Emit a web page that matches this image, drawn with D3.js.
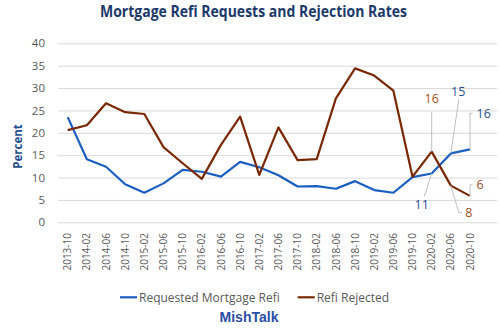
<!DOCTYPE html>
<html>
<head>
<meta charset="utf-8">
<script src="https://cdn.jsdelivr.net/npm/d3@7"></script>
<style>
    body { margin: 0; background: #fff; }
    svg { display: block; font-family: "Open Sans", sans-serif; }
</style>
</head>
<body>
<div id="chart"></div>
<script>
    // data
    var months = [ '2013-10', '2014-02', '2014-06', '2014-10', '2015-02', '2015-06', '2015-10', '2016-02',
                   '2016-06', '2016-10', '2017-02', '2017-06', '2017-10', '2018-02', '2018-06', '2018-10',
                   '2019-02', '2019-06', '2019-10', '2020-02', '2020-06', '2020-10' ];

    var requested = [ 23.5, 14.1, 12.4, 8.5, 6.6, 8.7, 11.7, 11.3, 10.2, 13.5, 12.3,
                      10.5, 8.0, 8.1, 7.5, 9.2, 7.2, 6.6, 10.1, 10.9, 15.4, 16.3 ];

    var rejected = [ 20.6, 21.7, 26.6, 24.6, 24.2, 16.8, 13.2, 9.7, 17.3, 23.6, 10.6,
                     21.2, 13.9, 14.1, 27.7, 34.4, 32.8, 29.4, 10.2, 15.8, 8.2, 5.9 ];

    var yTicks = [ 0, 5, 10, 15, 20, 25, 30, 35, 40 ];

    var BLUE = '#1a5fc0',
        BROWN = '#7a2804',
        BLUE_LABEL = '#1f4e8f',
        BROWN_LABEL = '#a0501e',
        LEADER = '#bfbfbf';

    var width = 500, height = 335;

    var svg = d3.select('#chart')
        .append('svg')
            .attr('width', width)
            .attr('height', height);

    var x = d3.scalePoint()
        .domain(months)
        .range([67.7, 470]);

    var y = d3.scaleLinear()
        .domain([0, 40])
        .range([222.3, 43.3]);

    // gridlines + y labels
    var yAxis = d3.axisLeft(y)
        .tickValues(yTicks)
        .tickSize(-(497 - 58))
        .tickPadding(13);

    svg.append('g')
        .attr('transform', 'translate(58, 0)')
        .call(yAxis)
        .call(g => g.select('.domain').remove())
        .call(g => g.selectAll('line').attr('stroke', '#d9d9d9').attr('stroke-width', 1))
        .call(g => g.selectAll('text')
            .attr('fill', '#595959')
            .attr('font-size', '11.5px')
            .attr('font-family', '"Open Sans", sans-serif'));

    // x labels, rotated
    svg.append('g')
        .selectAll('text')
        .data(months)
        .enter()
        .append('text')
            .attr('transform', d => 'translate(' + (x(d) + 3.6) + ', 233) rotate(-90)')
            .attr('text-anchor', 'end')
            .attr('fill', '#595959')
            .attr('font-size', '10px')
            .text(d => d);

    // lines
    var line = d3.line()
        .x((d, i) => x(months[i]))
        .y(d => y(d));

    svg.append('path')
        .datum(requested)
        .attr('fill', 'none')
        .attr('stroke', BLUE)
        .attr('stroke-width', 2.2)
        .attr('stroke-linejoin', 'round')
        .attr('d', line);

    svg.append('path')
        .datum(rejected)
        .attr('fill', 'none')
        .attr('stroke', BROWN)
        .attr('stroke-width', 2.2)
        .attr('stroke-linejoin', 'round')
        .attr('d', line);

    // value callouts on the last few points
    var callouts = [
        { values: requested, i: 19, color: BLUE_LABEL, leader: [[-7.4, 23]], lx: -10, ly: 31.5, anchor: 'middle' },
        { values: requested, i: 20, color: BLUE_LABEL, leader: [[8, -54]], lx: 7.3, ly: -62, anchor: 'middle' },
        { values: requested, i: 21, color: BLUE_LABEL, leader: [[0, -36], [2.5, -36]], lx: 6.5, ly: -36, anchor: 'start' },
        { values: rejected, i: 19, color: BROWN_LABEL, leader: [[0, -40]], lx: 0, ly: -52.5, anchor: 'middle' },
        { values: rejected, i: 20, color: BROWN_LABEL, leader: [[8, 27], [11, 27]], lx: 14.5, ly: 27, anchor: 'start' },
        { values: rejected, i: 21, color: BROWN_LABEL, leader: [[0, -11], [2.5, -11]], lx: 6.5, ly: -11, anchor: 'start' }
    ];

    callouts.forEach(c => {
        var px = x(months[c.i]),
            py = y(c.values[c.i]);

        var pts = [[px, py]].concat(c.leader.map(p => [px + p[0], py + p[1]]));

        svg.append('path')
            .attr('d', d3.line()(pts))
            .attr('fill', 'none')
            .attr('stroke', LEADER)
            .attr('stroke-width', 1);

        svg.append('text')
            .attr('x', px + c.lx)
            .attr('y', py + c.ly)
            .attr('dy', '0.35em')
            .attr('text-anchor', c.anchor)
            .attr('fill', c.color)
            .attr('font-size', '12.5px')
            .text(Math.round(c.values[c.i]));
    });

    // title
    svg.append('text')
        .attr('x', 253.5)
        .attr('y', 17)
        .attr('text-anchor', 'middle')
        .attr('fill', '#1b3a6b')
        .attr('font-size', '15.5px')
        .attr('font-weight', 'bold')
        .attr('textLength', 307)
        .attr('lengthAdjust', 'spacingAndGlyphs')
        .text('Mortgage Refi Requests and Rejection Rates');

    // y title
    svg.append('text')
        .attr('transform', 'translate(18, 146.5) rotate(-90)')
        .attr('text-anchor', 'middle')
        .attr('dy', '0.35em')
        .attr('fill', '#1f4e8f')
        .attr('font-size', '11.5px')
        .attr('font-weight', 'bold')
        .text('Percent');

    // legend
    var legend = [
        { name: 'Requested Mortgage Refi', color: BLUE, x: 120 },
        { name: 'Refi Rejected', color: BROWN, x: 297.7 }
    ];

    var items = svg.append('g')
        .selectAll('g')
        .data(legend)
        .enter()
        .append('g')
            .attr('transform', d => 'translate(' + d.x + ', 297.3)');

    items.append('line')
        .attr('x1', 0).attr('x2', 17)
        .attr('stroke', d => d.color)
        .attr('stroke-width', 2.2);

    items.append('text')
        .attr('x', 19)
        .attr('dy', '0.35em')
        .attr('fill', '#595959')
        .attr('font-size', '12px')
        .text(d => d.name);

    // source
    svg.append('text')
        .attr('x', 249)
        .attr('y', 317)
        .attr('dy', '0.35em')
        .attr('text-anchor', 'middle')
        .attr('fill', '#2a4ea6')
        .attr('font-family', '"Liberation Sans", Arial, sans-serif')
        .attr('font-size', '14px')
        .attr('font-weight', 'bold')
        .text('MishTalk');
</script>
</body>
</html>
